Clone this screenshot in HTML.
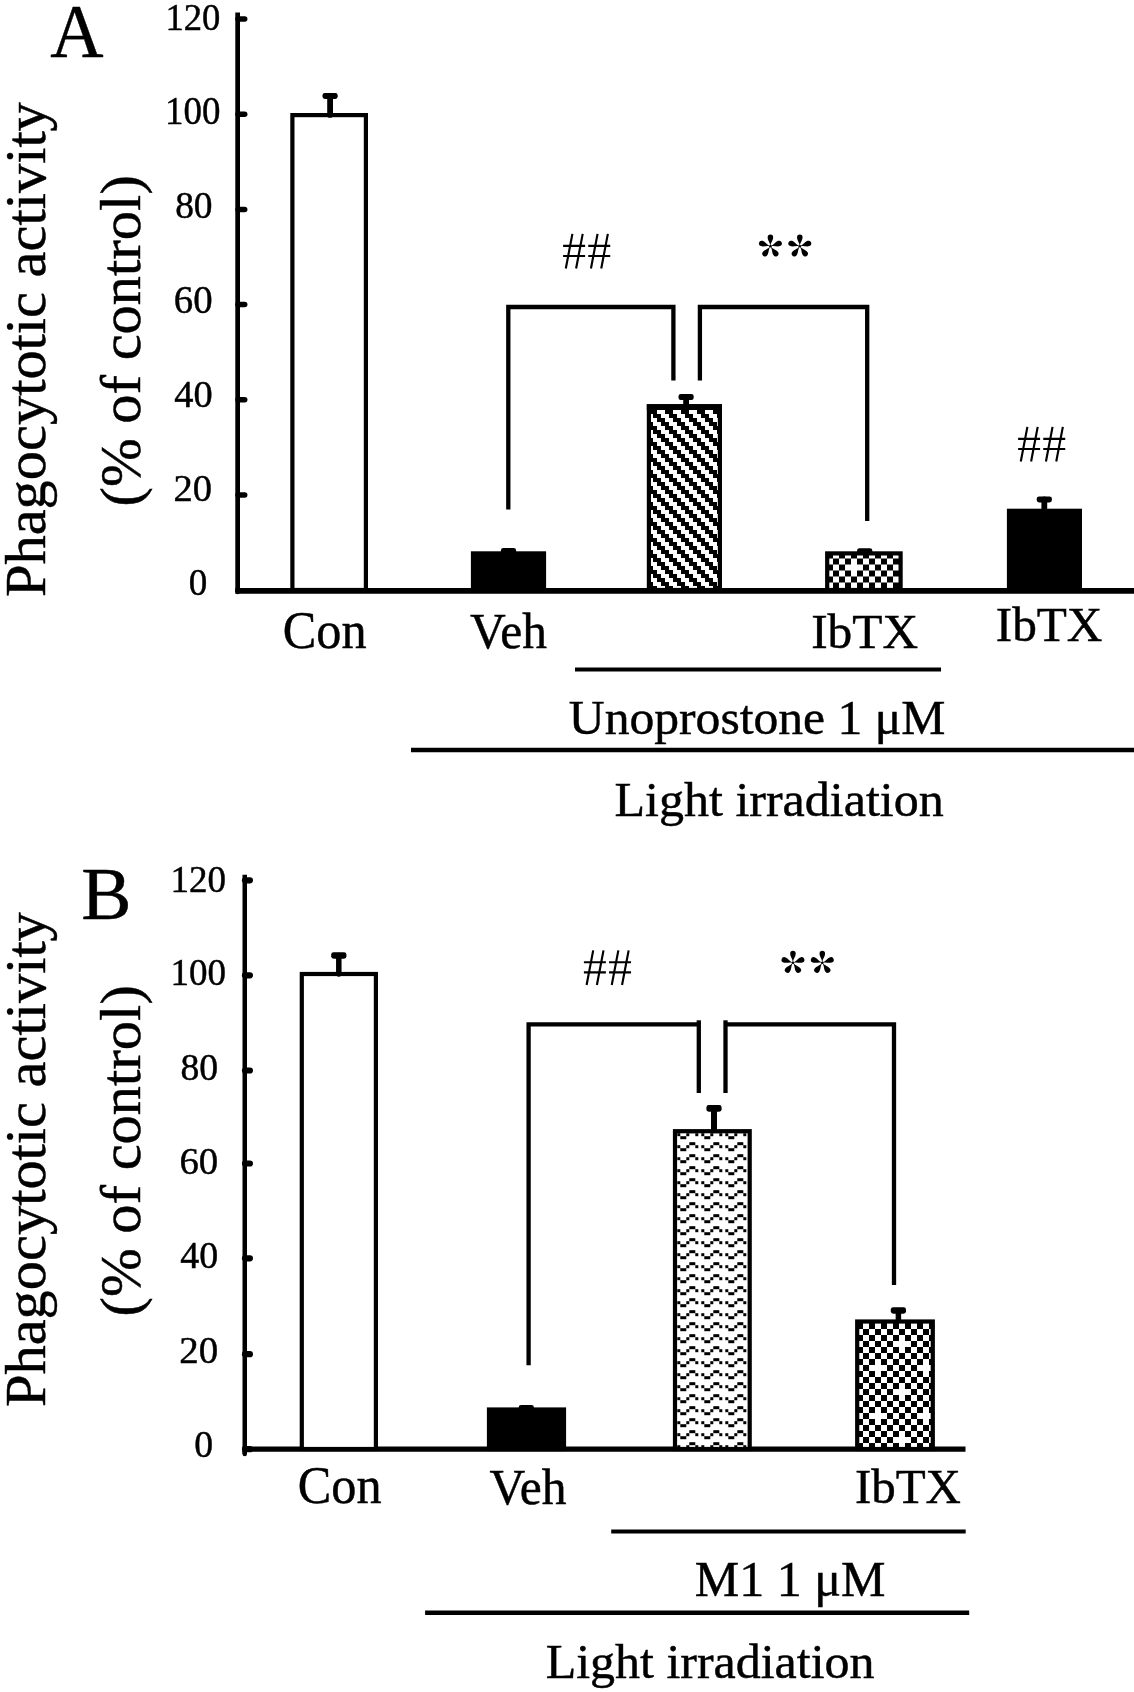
<!DOCTYPE html>
<html><head><meta charset="utf-8"><title>Figure</title>
<style>
html,body{margin:0;padding:0;background:#fff;}
svg{display:block;will-change:transform;}
text{font-family:"Liberation Serif", serif;fill:#000;stroke:#000;stroke-width:0.45px;}
</style></head><body>
<svg width="1134" height="1692" viewBox="0 0 1134 1692">
<rect width="1134" height="1692" fill="#fff"/>
<defs><pattern id="diag" width="16" height="16" patternUnits="userSpaceOnUse" x="657" y="410"><rect width="16" height="16" fill="#000"/><path d="M0,0h4v4h-4zM4,0h4v4h-4zM4,4h4v4h-4zM8,4h4v4h-4zM8,8h4v4h-4zM12,8h4v4h-4zM12,12h4v4h-4zM0,12h4v4h-4z" fill="#fff" shape-rendering="crispEdges"/></pattern><pattern id="chkA" width="48" height="48" patternUnits="userSpaceOnUse" x="821" y="552.5"><rect width="48" height="48" fill="#000"/><path d="M0,0h6v6h-6zM12,0h6v6h-6zM24,0h6v6h-6zM36,0h6v6h-6zM6,6h6v6h-6zM18,6h6v6h-6zM30,6h6v6h-6zM42,6h6v6h-6zM0,12h6v6h-6zM12,12h6v6h-6zM24,12h6v6h-6zM30,12h6v6h-6zM36,12h6v6h-6zM6,18h6v6h-6zM18,18h6v6h-6zM30,18h6v6h-6zM42,18h6v6h-6zM0,24h6v6h-6zM12,24h6v6h-6zM24,24h6v6h-6zM36,24h6v6h-6zM6,30h6v6h-6zM18,30h6v6h-6zM30,30h6v6h-6zM42,30h6v6h-6zM0,36h6v6h-6zM6,36h6v6h-6zM12,36h6v6h-6zM24,36h6v6h-6zM36,36h6v6h-6zM6,42h6v6h-6zM18,42h6v6h-6zM30,42h6v6h-6zM42,42h6v6h-6z" fill="#fff" shape-rendering="crispEdges"/></pattern><pattern id="chkB" width="48" height="48" patternUnits="userSpaceOnUse" x="845" y="1317"><rect width="48" height="48" fill="#000"/><path d="M0,0h6v6h-6zM12,0h6v6h-6zM24,0h6v6h-6zM30,0h6v6h-6zM36,0h6v6h-6zM6,6h6v6h-6zM18,6h6v6h-6zM30,6h6v6h-6zM42,6h6v6h-6zM0,12h6v6h-6zM12,12h6v6h-6zM24,12h6v6h-6zM36,12h6v6h-6zM6,18h6v6h-6zM18,18h6v6h-6zM30,18h6v6h-6zM42,18h6v6h-6zM0,24h6v6h-6zM6,24h6v6h-6zM12,24h6v6h-6zM24,24h6v6h-6zM36,24h6v6h-6zM6,30h6v6h-6zM18,30h6v6h-6zM30,30h6v6h-6zM42,30h6v6h-6zM0,36h6v6h-6zM12,36h6v6h-6zM24,36h6v6h-6zM36,36h6v6h-6zM6,42h6v6h-6zM18,42h6v6h-6zM30,42h6v6h-6zM42,42h6v6h-6z" fill="#fff" shape-rendering="crispEdges"/></pattern><pattern id="wave" width="24" height="12" patternUnits="userSpaceOnUse" x="677.3" y="1142.2"><rect width="24" height="12" fill="#fff"/><path d="M12,0h3v3h-3zM15,0h3v3h-3zM0,3h3v3h-3zM9,3h3v3h-3zM18,3h3v3h-3zM3,6h3v3h-3zM6,6h3v3h-3z" fill="#000" shape-rendering="crispEdges"/></pattern></defs>
<line x1="237.65" y1="12.5" x2="237.65" y2="592" stroke="#000" stroke-width="4.7" stroke-linecap="butt"/>
<line x1="237.65" y1="590" x2="237.65" y2="592" stroke="#000" stroke-width="4.7" stroke-linecap="round"/>
<line x1="235.4" y1="590.8" x2="1134" y2="590.8" stroke="#000" stroke-width="5.8" stroke-linecap="butt"/>
<line x1="238" y1="19" x2="244.7" y2="19" stroke="#000" stroke-width="5.5" stroke-linecap="round"/>
<line x1="238" y1="114.2" x2="244.7" y2="114.2" stroke="#000" stroke-width="5.5" stroke-linecap="round"/>
<line x1="238" y1="209.4" x2="244.7" y2="209.4" stroke="#000" stroke-width="5.5" stroke-linecap="round"/>
<line x1="238" y1="304.6" x2="244.7" y2="304.6" stroke="#000" stroke-width="5.5" stroke-linecap="round"/>
<line x1="238" y1="399.8" x2="244.7" y2="399.8" stroke="#000" stroke-width="5.5" stroke-linecap="round"/>
<line x1="238" y1="495" x2="244.7" y2="495" stroke="#000" stroke-width="5.5" stroke-linecap="round"/>
<text transform="translate(165.48,29.69) scale(0.9839,1)" font-size="37.22" font-weight="normal">120</text>
<text transform="translate(165.04,124.16) scale(0.9281,1)" font-size="39.81" font-weight="normal">100</text>
<text transform="translate(175.15,218.37) scale(0.9932,1)" font-size="37.71" font-weight="normal">80</text>
<text transform="translate(173.83,312.8) scale(0.9748,1)" font-size="39.82" font-weight="normal">60</text>
<text transform="translate(174.23,406.67) scale(1.0127,1)" font-size="37.92" font-weight="normal">40</text>
<text transform="translate(173.46,500.56) scale(1.0211,1)" font-size="37.7" font-weight="normal">20</text>
<text transform="translate(188.8,594.74) scale(0.9977,1)" font-size="37.18" font-weight="normal">0</text>
<rect x="292.4" y="115.1" width="73.5" height="474.9" fill="#fff" stroke="#000" stroke-width="4.2"/>
<rect x="322.5" y="93" width="15.2" height="6" rx="2.4" ry="2.4" fill="#000"/>
<line x1="330.1" y1="96" x2="330.1" y2="114.9" stroke="#000" stroke-width="5.8" stroke-linecap="round"/>
<rect x="473" y="553.4" width="71" height="36.6" fill="#000" stroke="#000" stroke-width="4.2"/>
<rect x="500.9" y="548" width="15.2" height="6" rx="2.4" ry="2.4" fill="#000"/>
<rect x="648.9" y="406.3" width="71" height="183.7" fill="url(#diag)" stroke="#000" stroke-width="4.2"/>
<rect x="646.8" y="404.2" width="75.2" height="5.8" fill="#000"/>
<rect x="678.5" y="394.1" width="15.2" height="6" rx="2.4" ry="2.4" fill="#000"/>
<line x1="686.1" y1="397.1" x2="686.1" y2="404.1" stroke="#000" stroke-width="5.8" stroke-linecap="round"/>
<rect x="827.2" y="553.4" width="73.4" height="36.6" fill="url(#chkA)" stroke="#000" stroke-width="4.2"/>
<rect x="857.1" y="548.2" width="15.2" height="6" rx="2.4" ry="2.4" fill="#000"/>
<rect x="1009" y="510.8" width="70.9" height="79.2" fill="#000" stroke="#000" stroke-width="4.2"/>
<rect x="1036.7" y="496.4" width="15.2" height="6" rx="2.4" ry="2.4" fill="#000"/>
<line x1="1044.3" y1="499.4" x2="1044.3" y2="508.1" stroke="#000" stroke-width="5.8" stroke-linecap="round"/>
<path d="M508.3,509.5 V307 H673.4 V380.5" fill="none" stroke="#000" stroke-width="4.3"/>
<path d="M699.9,380.5 V307 H867.2 V521" fill="none" stroke="#000" stroke-width="4.3"/>
<path transform="translate(563.1,233.9)" d="M0,11.9H22M0,22.1H22M9.3,0L2.7,34.6M19.6,0L13.0,34.6M25.15,11.9H47.15M25.15,22.1H47.15M34.45,0L27.849999999999998,34.6M44.75,0L38.15,34.6" fill="none" stroke="#000" stroke-width="2.15"/>
<g transform="translate(770.4,246.3)" fill="#000"><path d="M0,0 C-0.4,-4.4 -2.75,-5.9 -2.75,-9.15 A2.75,2.75 0 1 1 2.75,-9.15 C2.75,-5.9 0.4,-4.4 0,0Z" transform="rotate(0)"/><path d="M0,0 C-0.4,-4.4 -2.75,-5.9 -2.75,-9.15 A2.75,2.75 0 1 1 2.75,-9.15 C2.75,-5.9 0.4,-4.4 0,0Z" transform="rotate(72)"/><path d="M0,0 C-0.4,-4.4 -2.75,-5.9 -2.75,-9.15 A2.75,2.75 0 1 1 2.75,-9.15 C2.75,-5.9 0.4,-4.4 0,0Z" transform="rotate(144)"/><path d="M0,0 C-0.4,-4.4 -2.75,-5.9 -2.75,-9.15 A2.75,2.75 0 1 1 2.75,-9.15 C2.75,-5.9 0.4,-4.4 0,0Z" transform="rotate(216)"/><path d="M0,0 C-0.4,-4.4 -2.75,-5.9 -2.75,-9.15 A2.75,2.75 0 1 1 2.75,-9.15 C2.75,-5.9 0.4,-4.4 0,0Z" transform="rotate(288)"/><circle r="1.3"/></g>
<g transform="translate(799.8,246.3)" fill="#000"><path d="M0,0 C-0.4,-4.4 -2.75,-5.9 -2.75,-9.15 A2.75,2.75 0 1 1 2.75,-9.15 C2.75,-5.9 0.4,-4.4 0,0Z" transform="rotate(0)"/><path d="M0,0 C-0.4,-4.4 -2.75,-5.9 -2.75,-9.15 A2.75,2.75 0 1 1 2.75,-9.15 C2.75,-5.9 0.4,-4.4 0,0Z" transform="rotate(72)"/><path d="M0,0 C-0.4,-4.4 -2.75,-5.9 -2.75,-9.15 A2.75,2.75 0 1 1 2.75,-9.15 C2.75,-5.9 0.4,-4.4 0,0Z" transform="rotate(144)"/><path d="M0,0 C-0.4,-4.4 -2.75,-5.9 -2.75,-9.15 A2.75,2.75 0 1 1 2.75,-9.15 C2.75,-5.9 0.4,-4.4 0,0Z" transform="rotate(216)"/><path d="M0,0 C-0.4,-4.4 -2.75,-5.9 -2.75,-9.15 A2.75,2.75 0 1 1 2.75,-9.15 C2.75,-5.9 0.4,-4.4 0,0Z" transform="rotate(288)"/><circle r="1.3"/></g>
<path transform="translate(1018.1,426.9)" d="M0,11.9H22M0,22.1H22M9.3,0L2.7,34.6M19.6,0L13.0,34.6M25.15,11.9H47.15M25.15,22.1H47.15M34.45,0L27.849999999999998,34.6M44.75,0L38.15,34.6" fill="none" stroke="#000" stroke-width="2.15"/>
<text transform="translate(282.83,648.4) scale(0.9684,1)" font-size="51.94" font-weight="normal">Con</text>
<text transform="translate(469.95,648.15) scale(0.9856,1)" font-size="50.21" font-weight="normal">Veh</text>
<text transform="translate(811.2,647.68) scale(1.0057,1)" font-size="49.05" font-weight="normal">IbTX</text>
<text transform="translate(995.72,641.03) scale(1.0000,1)" font-size="49.29" font-weight="normal">IbTX</text>
<line x1="575" y1="669.5" x2="941" y2="669.5" stroke="#000" stroke-width="4.2" stroke-linecap="butt"/>
<text transform="translate(568.85,734.4) scale(1.0109,1)" font-size="49.09" font-weight="normal">Unoprostone 1 μM</text>
<line x1="411" y1="750" x2="1134" y2="750" stroke="#000" stroke-width="4.3" stroke-linecap="butt"/>
<text transform="translate(614.52,815.87) scale(1.0331,1)" font-size="48.43" font-weight="normal">Light irradiation</text>
<text transform="translate(50.33,57.23) scale(0.9638,1)" font-size="76.58" font-weight="normal">A</text>
<text transform="translate(45.25,597.04) rotate(-90) scale(1.0131,1)" font-size="57.69">Phagocytotic activity</text>
<text transform="translate(140,506.5) rotate(-90) scale(1.0120,1)" font-size="57.81">(% of control)</text>
<line x1="244.75" y1="874.7" x2="244.75" y2="1454" stroke="#000" stroke-width="4.5" stroke-linecap="butt"/>
<line x1="244.75" y1="1452" x2="244.75" y2="1454" stroke="#000" stroke-width="4.5" stroke-linecap="round"/>
<line x1="242.5" y1="1449.1" x2="965.5" y2="1449.1" stroke="#000" stroke-width="5.2" stroke-linecap="butt"/>
<line x1="245" y1="880.3" x2="249.9" y2="880.3" stroke="#000" stroke-width="6.2" stroke-linecap="round"/>
<line x1="245" y1="975.3" x2="249.9" y2="975.3" stroke="#000" stroke-width="6.2" stroke-linecap="round"/>
<line x1="245" y1="1070.5" x2="249.9" y2="1070.5" stroke="#000" stroke-width="6.2" stroke-linecap="round"/>
<line x1="245" y1="1163.5" x2="249.9" y2="1163.5" stroke="#000" stroke-width="6.2" stroke-linecap="round"/>
<line x1="245" y1="1258.3" x2="249.9" y2="1258.3" stroke="#000" stroke-width="6.2" stroke-linecap="round"/>
<line x1="245" y1="1354.2" x2="249.9" y2="1354.2" stroke="#000" stroke-width="6.2" stroke-linecap="round"/>
<line x1="245" y1="1449.2" x2="249.9" y2="1449.2" stroke="#000" stroke-width="6.2" stroke-linecap="round"/>
<text transform="translate(170.56,891.69) scale(1.0020,1)" font-size="36.98" font-weight="normal">120</text>
<text transform="translate(170.56,985.36) scale(0.9894,1)" font-size="37.45" font-weight="normal">100</text>
<text transform="translate(180.47,1079.73) scale(1.0068,1)" font-size="37.47" font-weight="normal">80</text>
<text transform="translate(179.43,1174.2) scale(1.0167,1)" font-size="38.18" font-weight="normal">60</text>
<text transform="translate(180.32,1268.37) scale(1.0254,1)" font-size="36.98" font-weight="normal">40</text>
<text transform="translate(179.34,1362.68) scale(1.0312,1)" font-size="37.7" font-weight="normal">20</text>
<text transform="translate(194.29,1457.04) scale(0.9939,1)" font-size="37.94" font-weight="normal">0</text>
<rect x="301.8" y="974" width="74.1" height="475" fill="#fff" stroke="#000" stroke-width="4.2"/>
<rect x="331.2" y="952.2" width="15.2" height="6.5" rx="2.4" ry="2.4" fill="#000"/>
<line x1="338.8" y1="955.45" x2="338.8" y2="973.95" stroke="#000" stroke-width="5.5" stroke-linecap="round"/>
<rect x="489" y="1409.5" width="75" height="39.5" fill="#000" stroke="#000" stroke-width="4.2"/>
<rect x="518.7" y="1405" width="15.2" height="6" rx="2.4" ry="2.4" fill="#000"/>
<rect x="675" y="1131.2" width="74.7" height="317.8" fill="url(#wave)" stroke="#000" stroke-width="4.2"/>
<rect x="706.4" y="1105" width="15.2" height="6.7" rx="2.4" ry="2.4" fill="#000"/>
<line x1="714" y1="1108.35" x2="714" y2="1130" stroke="#000" stroke-width="6" stroke-linecap="round"/>
<rect x="857.2" y="1321.5" width="75.6" height="127.5" fill="url(#chkB)" stroke="#000" stroke-width="4.2"/>
<rect x="890.8" y="1307.2" width="15.2" height="6.5" rx="2.4" ry="2.4" fill="#000"/>
<line x1="898.4" y1="1310.45" x2="898.4" y2="1319.75" stroke="#000" stroke-width="5.5" stroke-linecap="round"/>
<path d="M528.6,1365.2 V1024.3 H698.8" fill="none" stroke="#000" stroke-width="4.3"/>
<line x1="698.8" y1="1020.3" x2="698.8" y2="1093" stroke="#000" stroke-width="4.3" stroke-linecap="butt"/>
<path d="M725.5,1024.3 H894 V1284.9" fill="none" stroke="#000" stroke-width="4.3"/>
<line x1="725.5" y1="1020.3" x2="725.5" y2="1093" stroke="#000" stroke-width="4.3" stroke-linecap="butt"/>
<path transform="translate(583.9,950.35)" d="M0,11.9H22M0,22.1H22M9.3,0L2.7,34.6M19.6,0L13.0,34.6M25.15,11.9H47.15M25.15,22.1H47.15M34.45,0L27.849999999999998,34.6M44.75,0L38.15,34.6" fill="none" stroke="#000" stroke-width="2.15"/>
<g transform="translate(792.95,962.7)" fill="#000"><path d="M0,0 C-0.4,-4.4 -2.75,-5.9 -2.75,-9.15 A2.75,2.75 0 1 1 2.75,-9.15 C2.75,-5.9 0.4,-4.4 0,0Z" transform="rotate(0)"/><path d="M0,0 C-0.4,-4.4 -2.75,-5.9 -2.75,-9.15 A2.75,2.75 0 1 1 2.75,-9.15 C2.75,-5.9 0.4,-4.4 0,0Z" transform="rotate(72)"/><path d="M0,0 C-0.4,-4.4 -2.75,-5.9 -2.75,-9.15 A2.75,2.75 0 1 1 2.75,-9.15 C2.75,-5.9 0.4,-4.4 0,0Z" transform="rotate(144)"/><path d="M0,0 C-0.4,-4.4 -2.75,-5.9 -2.75,-9.15 A2.75,2.75 0 1 1 2.75,-9.15 C2.75,-5.9 0.4,-4.4 0,0Z" transform="rotate(216)"/><path d="M0,0 C-0.4,-4.4 -2.75,-5.9 -2.75,-9.15 A2.75,2.75 0 1 1 2.75,-9.15 C2.75,-5.9 0.4,-4.4 0,0Z" transform="rotate(288)"/><circle r="1.3"/></g>
<g transform="translate(822.3,962.7)" fill="#000"><path d="M0,0 C-0.4,-4.4 -2.75,-5.9 -2.75,-9.15 A2.75,2.75 0 1 1 2.75,-9.15 C2.75,-5.9 0.4,-4.4 0,0Z" transform="rotate(0)"/><path d="M0,0 C-0.4,-4.4 -2.75,-5.9 -2.75,-9.15 A2.75,2.75 0 1 1 2.75,-9.15 C2.75,-5.9 0.4,-4.4 0,0Z" transform="rotate(72)"/><path d="M0,0 C-0.4,-4.4 -2.75,-5.9 -2.75,-9.15 A2.75,2.75 0 1 1 2.75,-9.15 C2.75,-5.9 0.4,-4.4 0,0Z" transform="rotate(144)"/><path d="M0,0 C-0.4,-4.4 -2.75,-5.9 -2.75,-9.15 A2.75,2.75 0 1 1 2.75,-9.15 C2.75,-5.9 0.4,-4.4 0,0Z" transform="rotate(216)"/><path d="M0,0 C-0.4,-4.4 -2.75,-5.9 -2.75,-9.15 A2.75,2.75 0 1 1 2.75,-9.15 C2.75,-5.9 0.4,-4.4 0,0Z" transform="rotate(288)"/><circle r="1.3"/></g>
<text transform="translate(297.83,1503.4) scale(0.9684,1)" font-size="51.94" font-weight="normal">Con</text>
<text transform="translate(489.5,1503.63) scale(0.9868,1)" font-size="50.22" font-weight="normal">Veh</text>
<text transform="translate(854.9,1503.15) scale(0.9939,1)" font-size="49.29" font-weight="normal">IbTX</text>
<line x1="611.2" y1="1531.5" x2="965.7" y2="1531.5" stroke="#000" stroke-width="4.2" stroke-linecap="butt"/>
<text transform="translate(694.68,1596.47) scale(1.0029,1)" font-size="49.91" font-weight="normal">M1 1 μM</text>
<line x1="425.1" y1="1612.8" x2="969.2" y2="1612.8" stroke="#000" stroke-width="4.5" stroke-linecap="butt"/>
<text transform="translate(545.68,1677.98) scale(1.0151,1)" font-size="49.23" font-weight="normal">Light irradiation</text>
<text transform="translate(81.33,919.21) scale(1.0081,1)" font-size="74.71" font-weight="normal">B</text>
<text transform="translate(45.25,1407.04) rotate(-90) scale(1.0131,1)" font-size="57.69">Phagocytotic activity</text>
<text transform="translate(140,1316.5) rotate(-90) scale(1.0120,1)" font-size="57.81">(% of control)</text>
</svg>
</body></html>
